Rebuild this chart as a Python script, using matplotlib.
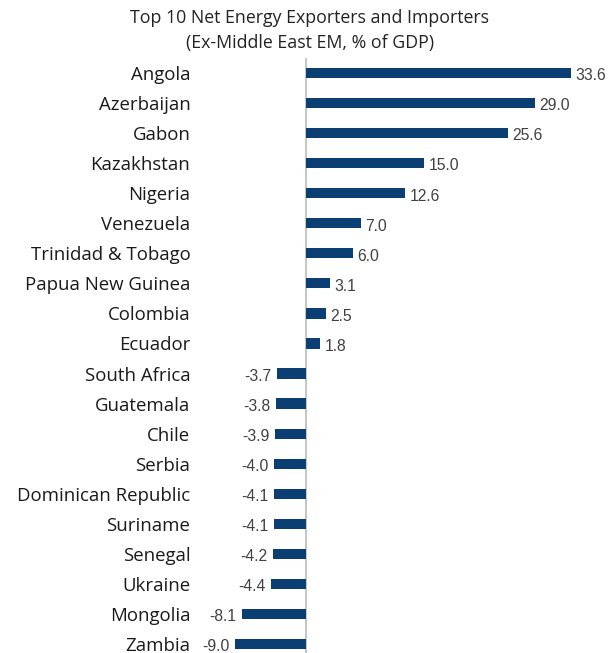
import matplotlib
matplotlib.use("Agg")
import matplotlib.pyplot as plt

countries = ["Angola", "Azerbaijan", "Gabon", "Kazakhstan", "Nigeria", "Venezuela",
             "Trinidad & Tobago", "Papua New Guinea", "Colombia", "Ecuador",
             "South Africa", "Guatemala", "Chile", "Serbia", "Dominican Republic",
             "Suriname", "Senegal", "Ukraine", "Mongolia", "Zambia"]
values = [33.6, 29.0, 25.6, 15.0, 12.6, 7.0, 6.0, 3.1, 2.5, 1.8,
          -3.7, -3.8, -3.9, -4.0, -4.1, -4.1, -4.2, -4.4, -8.1, -9.0]

plt.rcParams['font.family'] = ['Open Sans', 'DejaVu Sans']

W, H = 609, 653
fig = plt.figure(figsize=(W / 100, H / 100), dpi=100)
ax_left, ax_right, ax_top, ax_bottom = 225, 600, 58, 653
ax = fig.add_axes([ax_left / W, (H - ax_bottom) / H, (ax_right - ax_left) / W, (ax_bottom - ax_top) / H])

bar_color = "#0b3f73"
ypos = list(range(len(countries)))
ax.barh(ypos, values, height=0.34, color=bar_color, zorder=2)

ax.set_xlim(-10.27, 37.26)
ax.set_ylim(19.3, -0.5)

num_font = ['Liberation Sans', 'DejaVu Sans']
for y, v in zip(ypos, values):
    if v >= 0:
        ax.annotate(f"{v:.1f}", (v, y), xytext=(3, -2), textcoords="offset points",
                    ha="left", va="center", fontsize=11.3, color="#404040", family=num_font)
    else:
        ax.annotate(f"{v:.1f}", (v, y), xytext=(-4, -2), textcoords="offset points",
                    ha="right", va="center", fontsize=11.3, color="#404040", family=num_font)

ax.set_yticks(ypos)
ax.set_yticklabels(countries, fontsize=13.4, color="#1a1a1a")
ax.tick_params(axis="y", length=0, pad=25)
ax.set_xticks([])
for s in ["top", "right", "bottom", "left"]:
    ax.spines[s].set_visible(False)
ax.axvline(0, color="#bbbbbb", linewidth=1.2, zorder=1)

fig.text(310 / W, 1 - 18 / H, "Top 10 Net Energy Exporters and Importers",
         ha="center", va="center", fontsize=12.8, color="#222222")
fig.text(310 / W, 1 - 43 / H, "(Ex-Middle East EM, % of GDP)",
         ha="center", va="center", fontsize=12.8, color="#222222")

fig.savefig("out.png", dpi=100)
